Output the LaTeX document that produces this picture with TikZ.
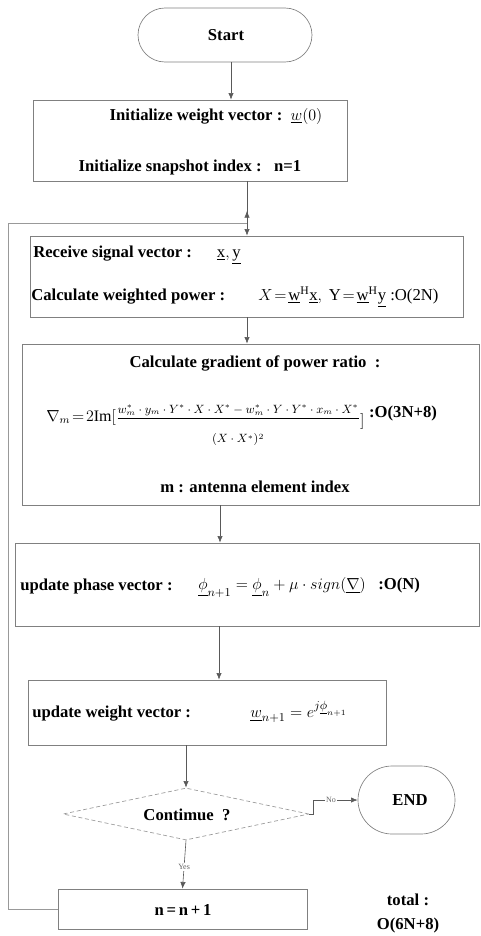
\documentclass[tikz,border=0pt]{standalone}
\usepackage{amsmath}
\usepackage{fontspec}
\setmainfont{Liberation Serif}
\usetikzlibrary{arrows.meta, shapes.geometric, shapes.misc}

\begin{document}
\begin{tikzpicture}[
    x=0.75pt, y=-0.75pt,
    box/.style={draw=black!50, line width=0.5pt, inner sep=0pt},
    term/.style={box, rounded rectangle},
    cond/.style={box, diamond, densely dashed, draw=black!40},
    txt/.style={inner sep=0pt, font=\bfseries\fontsize{12.5}{14}\selectfont},
    math/.style={inner sep=0pt, font=\fontsize{12.5}{14}\selectfont},
    small/.style={inner sep=1pt, fill=white, font=\fontsize{6}{7}\selectfont, text=black!60},
    arr/.style={draw=black!65, line width=0.45pt, -{Latex[length=5pt, width=4pt]}},
    line/.style={draw=black!40, line width=0.5pt}
]
\useasboundingbox (0,0) rectangle (480,936);

% --- Cajas ---
\node[term, minimum width=130.5pt, minimum height=40.5pt] (start) at (225,35) {};
\node[box, minimum width=235.5pt, minimum height=60.75pt] (init) at (190,140.5) {};
\node[box, minimum width=324.75pt, minimum height=60.75pt] (recv) at (246.5,276.5) {};
\node[box, minimum width=342.75pt, minimum height=120.75pt] (grad) at (250.5,424.5) {};
\node[box, minimum width=348pt, minimum height=62.25pt] (phase) at (247,584.5) {};
\node[box, minimum width=268.5pt, minimum height=48.75pt] (wvec) at (207,712.5) {};
\node[cond, minimum width=184.5pt, minimum height=39pt] (cont) at (186,814) {};
\node[term, minimum width=72.75pt, minimum height=51pt] (endn) at (406.5,800) {};
\node[box, minimum width=186.75pt, minimum height=30pt] (incr) at (182.5,909) {};

% --- Textos ---
\node[txt] (tstart) at (226,35) {Start};
\node[txt] (tinit1) at (216,116) {Initialize weight vector\ :\ \ {\mdseries$\underline{w}(0)$}};
\node[txt] (tinit2) at (190,167) {Initialize snapshot index\ :\ \ \ n=1};
\node[txt, anchor=west] (trecv1) at (33,255) {Receive signal vector\ :\ \ \ \ \ \ {\mdseries$\underline{\mathrm{x}},\underline{\mathrm{y}}$}};
\node[txt, anchor=west] (trecv2) at (31,297) {Calculate weighted power :};
\node[math, anchor=west] (frecv2) at (258,297) {$X\!=\!\underline{\mathrm{w}}^{\mathrm{H}}\underline{\mathrm{x}},\ \mathrm{Y}\!=\!\underline{\mathrm{w}}^{\mathrm{H}}\underline{\mathrm{y}}$ :O(2N)};
\node[txt] (tgrad1) at (255,363) {Calculate gradient of power ratio\ \ :};
\node[math, anchor=west, font=\fontsize{9}{11}\selectfont] (fgrad) at (46,425) {{\fontsize{12}{14}\selectfont$\nabla_{m}\!=\!2\mathrm{Im}[$}$\displaystyle\frac{w_m^{*}\cdot y_m\cdot Y^{*}\cdot X\cdot X^{*}-w_m^{*}\cdot Y\cdot Y^{*}\cdot x_m\cdot X^{*}}{\rule{0pt}{17pt}(X\cdot X^{*})^{2}}$\raisebox{-3pt}{\fontsize{12}{14}\selectfont$]$}};
\node[txt, anchor=west] (ograd) at (fgrad.east |- 0,413) {\ :O(3N+8)};
\node[txt] (tgrad2) at (255,487) {m : antenna element index};
\node[txt, anchor=west] (tphase) at (20,586) {update phase vector :};
\node[math, anchor=west] (fphase) at (198,588) {$\underline{\phi}_{n+1}=\underline{\phi}_{n}+\mu\cdot sign(\underline{\nabla})$\ \ \ \textbf{:O(N)}};
\node[txt, anchor=west] (twvec) at (32,714) {update weight vector :};
\node[math, anchor=west] (fwvec) at (250,712) {$\underline{w}_{n+1}=e^{j\underline{\phi}_{n+1}}$};
\node[txt] (tcont) at (187,815) {Contimue\ \ ?};
\node[txt] (tend) at (410,800) {END};
\node[txt] (tincr) at (183,910) {n\,=\,n\,+\,1};
\node[txt] (ttot1) at (408,900) {total :};
\node[txt] (ttot2) at (408,925) {O(6N+8)};

% --- Conexiones ---
\coordinate (jx) at (247,223);
\coordinate (jtip) at (247,211);
\coordinate (lcorner) at (8,223);
\draw[arr] (start.south -| 231,0) -- (init.north -| 231,0);
\draw[arr] (init.south -| jx) -- (recv.north -| jx);
\draw[arr] (recv.south -| jx) -- (grad.north -| jx);
\draw[arr] (grad.south -| 220,0) -- (phase.north -| 220,0);
\draw[arr] (phase.south -| 219,0) -- (wvec.north -| 219,0);
\draw[arr] (wvec.south -| cont) -- (cont.north);
\draw[arr] (cont.south) -- node[small, pos=0.55] (lyes) {Yes} (incr.north);
\draw[arr] (cont.east) -- ++(4,0) |- node[small, pos=0.7] (lno) {No} (endn.west);

% --- Retorno ---
\draw[line] (incr.west) -| (lcorner) -- (jx);
\draw[arr] (jx) -- (jtip);

\end{tikzpicture}
\end{document}
